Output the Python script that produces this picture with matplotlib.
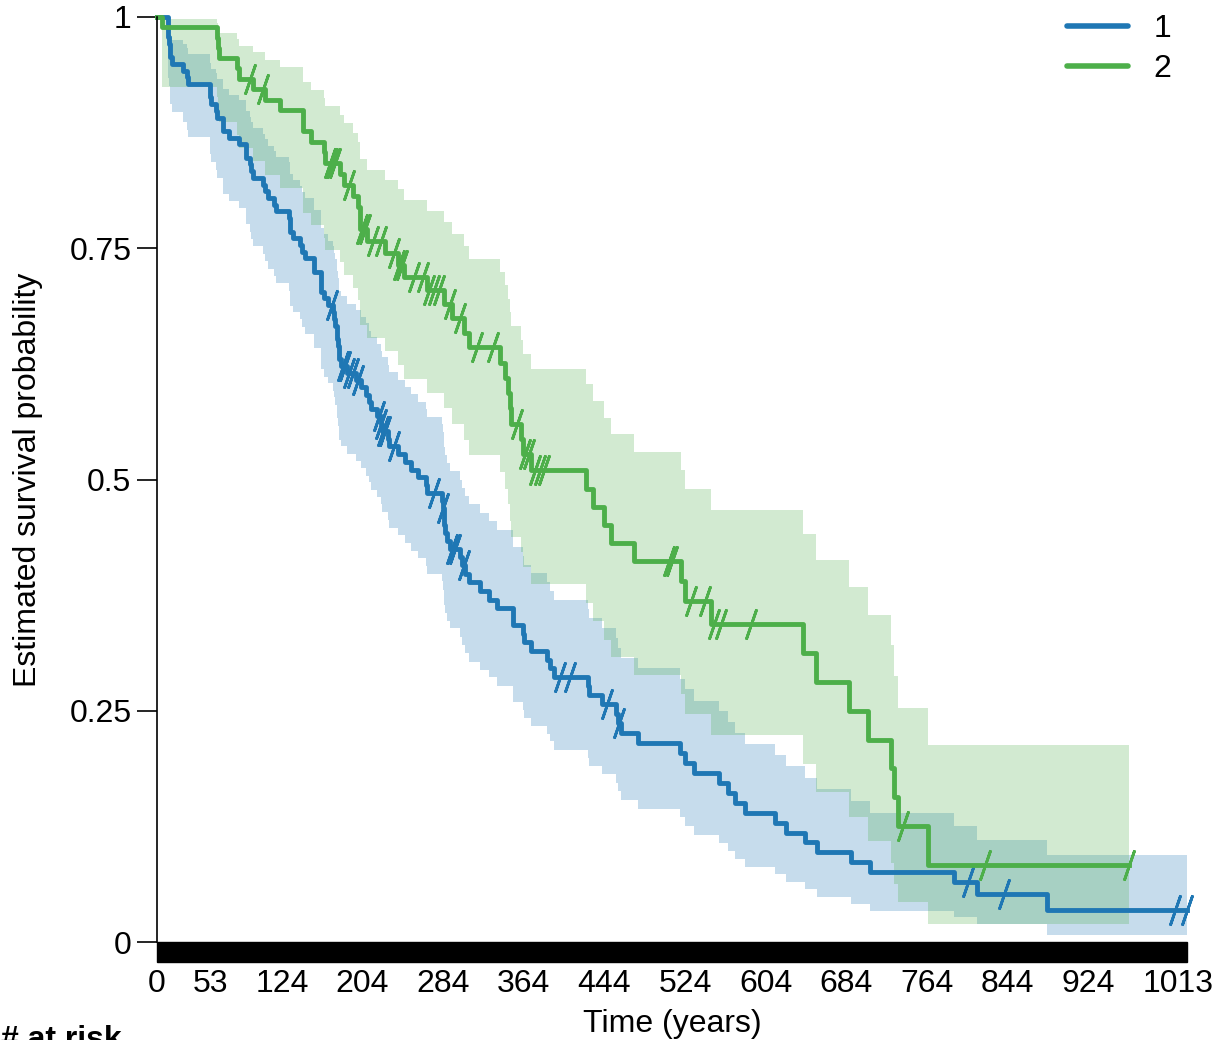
import numpy as np
import matplotlib
matplotlib.use("Agg")
import matplotlib.pyplot as plt
from matplotlib.patches import Rectangle

plt.rcParams["font.family"] = ["Liberation Sans", "DejaVu Sans"]

# group 1: event times, KM estimate, 95% CI (log-log)
t1 = [11,12,13,15,26,30,31,53,54,59,60,65,71,81,88,92,93,95,105,107,110,116,118,131,132,135,142,144,147,156,
      163,166,170,175,176,177,179,180,181,183,189,197,202,207,210,212,218,222,223,229,230,239,246,252,259,267,268,283,284,285,
      286,288,291,301,303,306,310,320,329,337,353,363,364,371,387,390,394,428,429,442,455,457,460,477,519,524,533,558,567,574,
      583,613,624,643,655,689,707,791,814,883]
s1 = [.9783,.9710,.9565,.9493,.9420,.9348,.9275,.9130,.9058,.8986,.8913,.8768,.8696,.8623,.8478,.8406,.8333,.8261,.8188,.8116,
      .8043,.7971,.7899,.7826,.7681,.7609,.7536,.7464,.7391,.7246,.7029,.6957,.6884,.6811,.6738,.6664,.6518,.6445,.6298,.6225,
      .6150,.6073,.5995,.5917,.5839,.5762,.5684,.5605,.5525,.5442,.5360,.5276,.5192,.5108,.5025,.4941,.4857,.4772,.4687,.4513,
      .4426,.4339,.4253,.4162,.4072,.3979,.3887,.3794,.3702,.3609,.3424,.3332,.3239,.3147,.3054,.2962,.2869,.2770,.2671,.2572,
      .2469,.2366,.2259,.2151,.2044,.1936,.1829,.1721,.1614,.1506,.1399,.1291,.1183,.1076,.0968,.0861,.0753,.0645,.0516,.0344]
lo1 = [.934,.925,.906,.897,.887,.878,.870,.852,.843,.835,.826,.809,.801,.793,.776,.768,.760,.752,.744,.736,
       .728,.720,.712,.704,.688,.681,.673,.665,.657,.642,.619,.611,.604,.596,.589,.581,.566,.558,.543,.536,
       .528,.520,.512,.504,.497,.489,.481,.473,.465,.456,.448,.440,.431,.423,.415,.406,.398,.390,.381,.364,
       .356,.347,.339,.330,.321,.312,.303,.294,.286,.277,.259,.251,.242,.234,.225,.217,.208,.199,.190,.182,
       .172,.163,.154,.144,.135,.125,.116,.107,.098,.090,.081,.073,.065,.057,.049,.041,.034,.027,.019,.008]
hi1 = [.993,.989,.980,.975,.971,.966,.960,.950,.944,.939,.933,.922,.916,.910,.898,.892,.886,.880,.874,.868,
       .861,.855,.849,.843,.830,.824,.817,.811,.804,.791,.772,.765,.758,.752,.745,.738,.725,.718,.704,.698,
       .690,.683,.676,.669,.661,.654,.647,.639,.632,.624,.616,.608,.600,.592,.584,.576,.568,.560,.551,.535,
       .526,.518,.509,.500,.491,.482,.473,.464,.455,.445,.427,.417,.408,.399,.389,.380,.370,.360,.350,.339,
       .329,.318,.307,.296,.284,.273,.261,.250,.238,.226,.214,.202,.190,.177,.165,.152,.139,.125,.110,.094]
cens1 = [174,185,187,191,194,199,220,222,224,226,235,275,284,293,296,305,400,410,447,458,805,840,1010,1022]

# group 2
t2 = [5,60,61,62,79,81,95,107,122,145,153,166,167,182,186,194,199,201,208,226,239,245,268,285,293,305,310,340,345,348,
      350,351,361,363,371,426,433,444,450,473,520,524,550,641,654,687,705,728,731,735,765]
s2 = [.9889,.9778,.9667,.9556,.9444,.9333,.9221,.9107,.8993,.8766,.8652,.8538,.8424,.8305,.8187,.8066,.7946,.7705,.7581,.7452,
      .7322,.7186,.7045,.6895,.6742,.6585,.6428,.6264,.6099,.5934,.5769,.5604,.5439,.5274,.5098,.4902,.4706,.4510,.4314,.4118,
      .3902,.3685,.3439,.3127,.2815,.2502,.2189,.1876,.1564,.1251,.0834]
lo2 = [.924,.914,.900,.886,.872,.858,.844,.829,.815,.788,.775,.761,.748,.735,.721,.707,.694,.667,.653,.639,
       .624,.609,.594,.577,.560,.543,.526,.508,.490,.473,.455,.438,.422,.405,.387,.367,.347,.327,.308,.289,
       .268,.247,.224,.192,.162,.135,.109,.085,.063,.043,.019]
hi2 = [.998,.994,.989,.983,.976,.969,.962,.954,.946,.930,.921,.912,.904,.894,.885,.875,.865,.846,.835,.824,
       .814,.802,.790,.778,.765,.752,.738,.724,.710,.695,.681,.666,.651,.636,.620,.603,.585,.567,.549,.530,
       .510,.490,.467,.441,.413,.384,.353,.321,.288,.253,.213]
cens2 = [92,105,172,174,177,191,203,206,214,222,235,240,243,255,264,270,275,280,291,301,318,333,357,365,369,375,380,384,
         508,511,530,544,553,560,589,740,822,964]

xtick_pos = [0,53,124,204,284,364,444,524,604,684,764,844,924,1013]
xtick_lab = ["0","53","124","204","284","364","444","524","604","684","764","844","924","1013"]

FS = 23
fig = plt.figure(figsize=(12.14, 10.4), dpi=100)
ax = fig.add_axes([157/1214, 98/1040, 1030/1214, 925/1040])

groups = [(t1, s1, lo1, hi1, cens1, "#1f77b4", "1"), (t2, s2, lo2, hi2, cens2, "#4daf4a", "2")]
for t, s, lo, hi, cens, c, lab in groups:
    # curve starts at (0, 1) and runs flat to the last censored time
    tt = [0] + t + [max(cens)]
    ss = [1] + s + [s[-1]]
    ax.fill_between(tt, [1] + lo + [lo[-1]], [1] + hi + [hi[-1]], step="post", color=c, alpha=.25, lw=0)
    ax.step(tt, ss, where="post", color=c, lw=3.5, label=lab, clip_on=False)
    cy = np.array(ss)[np.searchsorted(tt, cens, side="right") - 1]
    ax.plot(cens, cy, ls="none", marker=(2, 2, -19), ms=23, mew=2, color=c, clip_on=False)

ax.set_xlim(0, 1022)
ax.set_ylim(0, 1)
for sp in ["top", "right", "bottom"]:
    ax.spines[sp].set_visible(False)
ax.spines["left"].set_linewidth(1.2)
ax.set_yticks([0, .25, .5, .75, 1])
ax.set_yticklabels(["0", "0.25", "0.5", "0.75", "1"])
ax.set_xticks(xtick_pos)
ax.set_xticklabels(xtick_lab)
ax.tick_params(axis="y", length=14.4, width=1.2, labelsize=FS, pad=4)
ax.tick_params(axis="x", length=14.4, width=0, labelsize=FS, pad=5)
# solid black band under the axis
ax.add_patch(Rectangle((0, -20/925), 1022, 20/925, transform=ax.get_xaxis_transform(),
                       color="black", clip_on=False))
ax.set_xlabel("Time (years)", fontsize=FS, labelpad=7)
ax.set_ylabel("Estimated survival probability", fontsize=FS, labelpad=19)
leg = ax.legend(loc="upper right", bbox_to_anchor=(1171/1214, 1 - 14/1040), bbox_transform=fig.transFigure,
                frameon=False, fontsize=FS, handlelength=1.9, handletextpad=0.8, labelspacing=0.32,
                borderpad=0, borderaxespad=0)
for h in leg.get_lines():
    h.set_linewidth(4)
    h.set_solid_capstyle("round")
fig.text(0.001, 1 - 1025/1040, "# at risk", fontsize=FS, fontweight="bold", va="top")
fig.savefig("out.png")
